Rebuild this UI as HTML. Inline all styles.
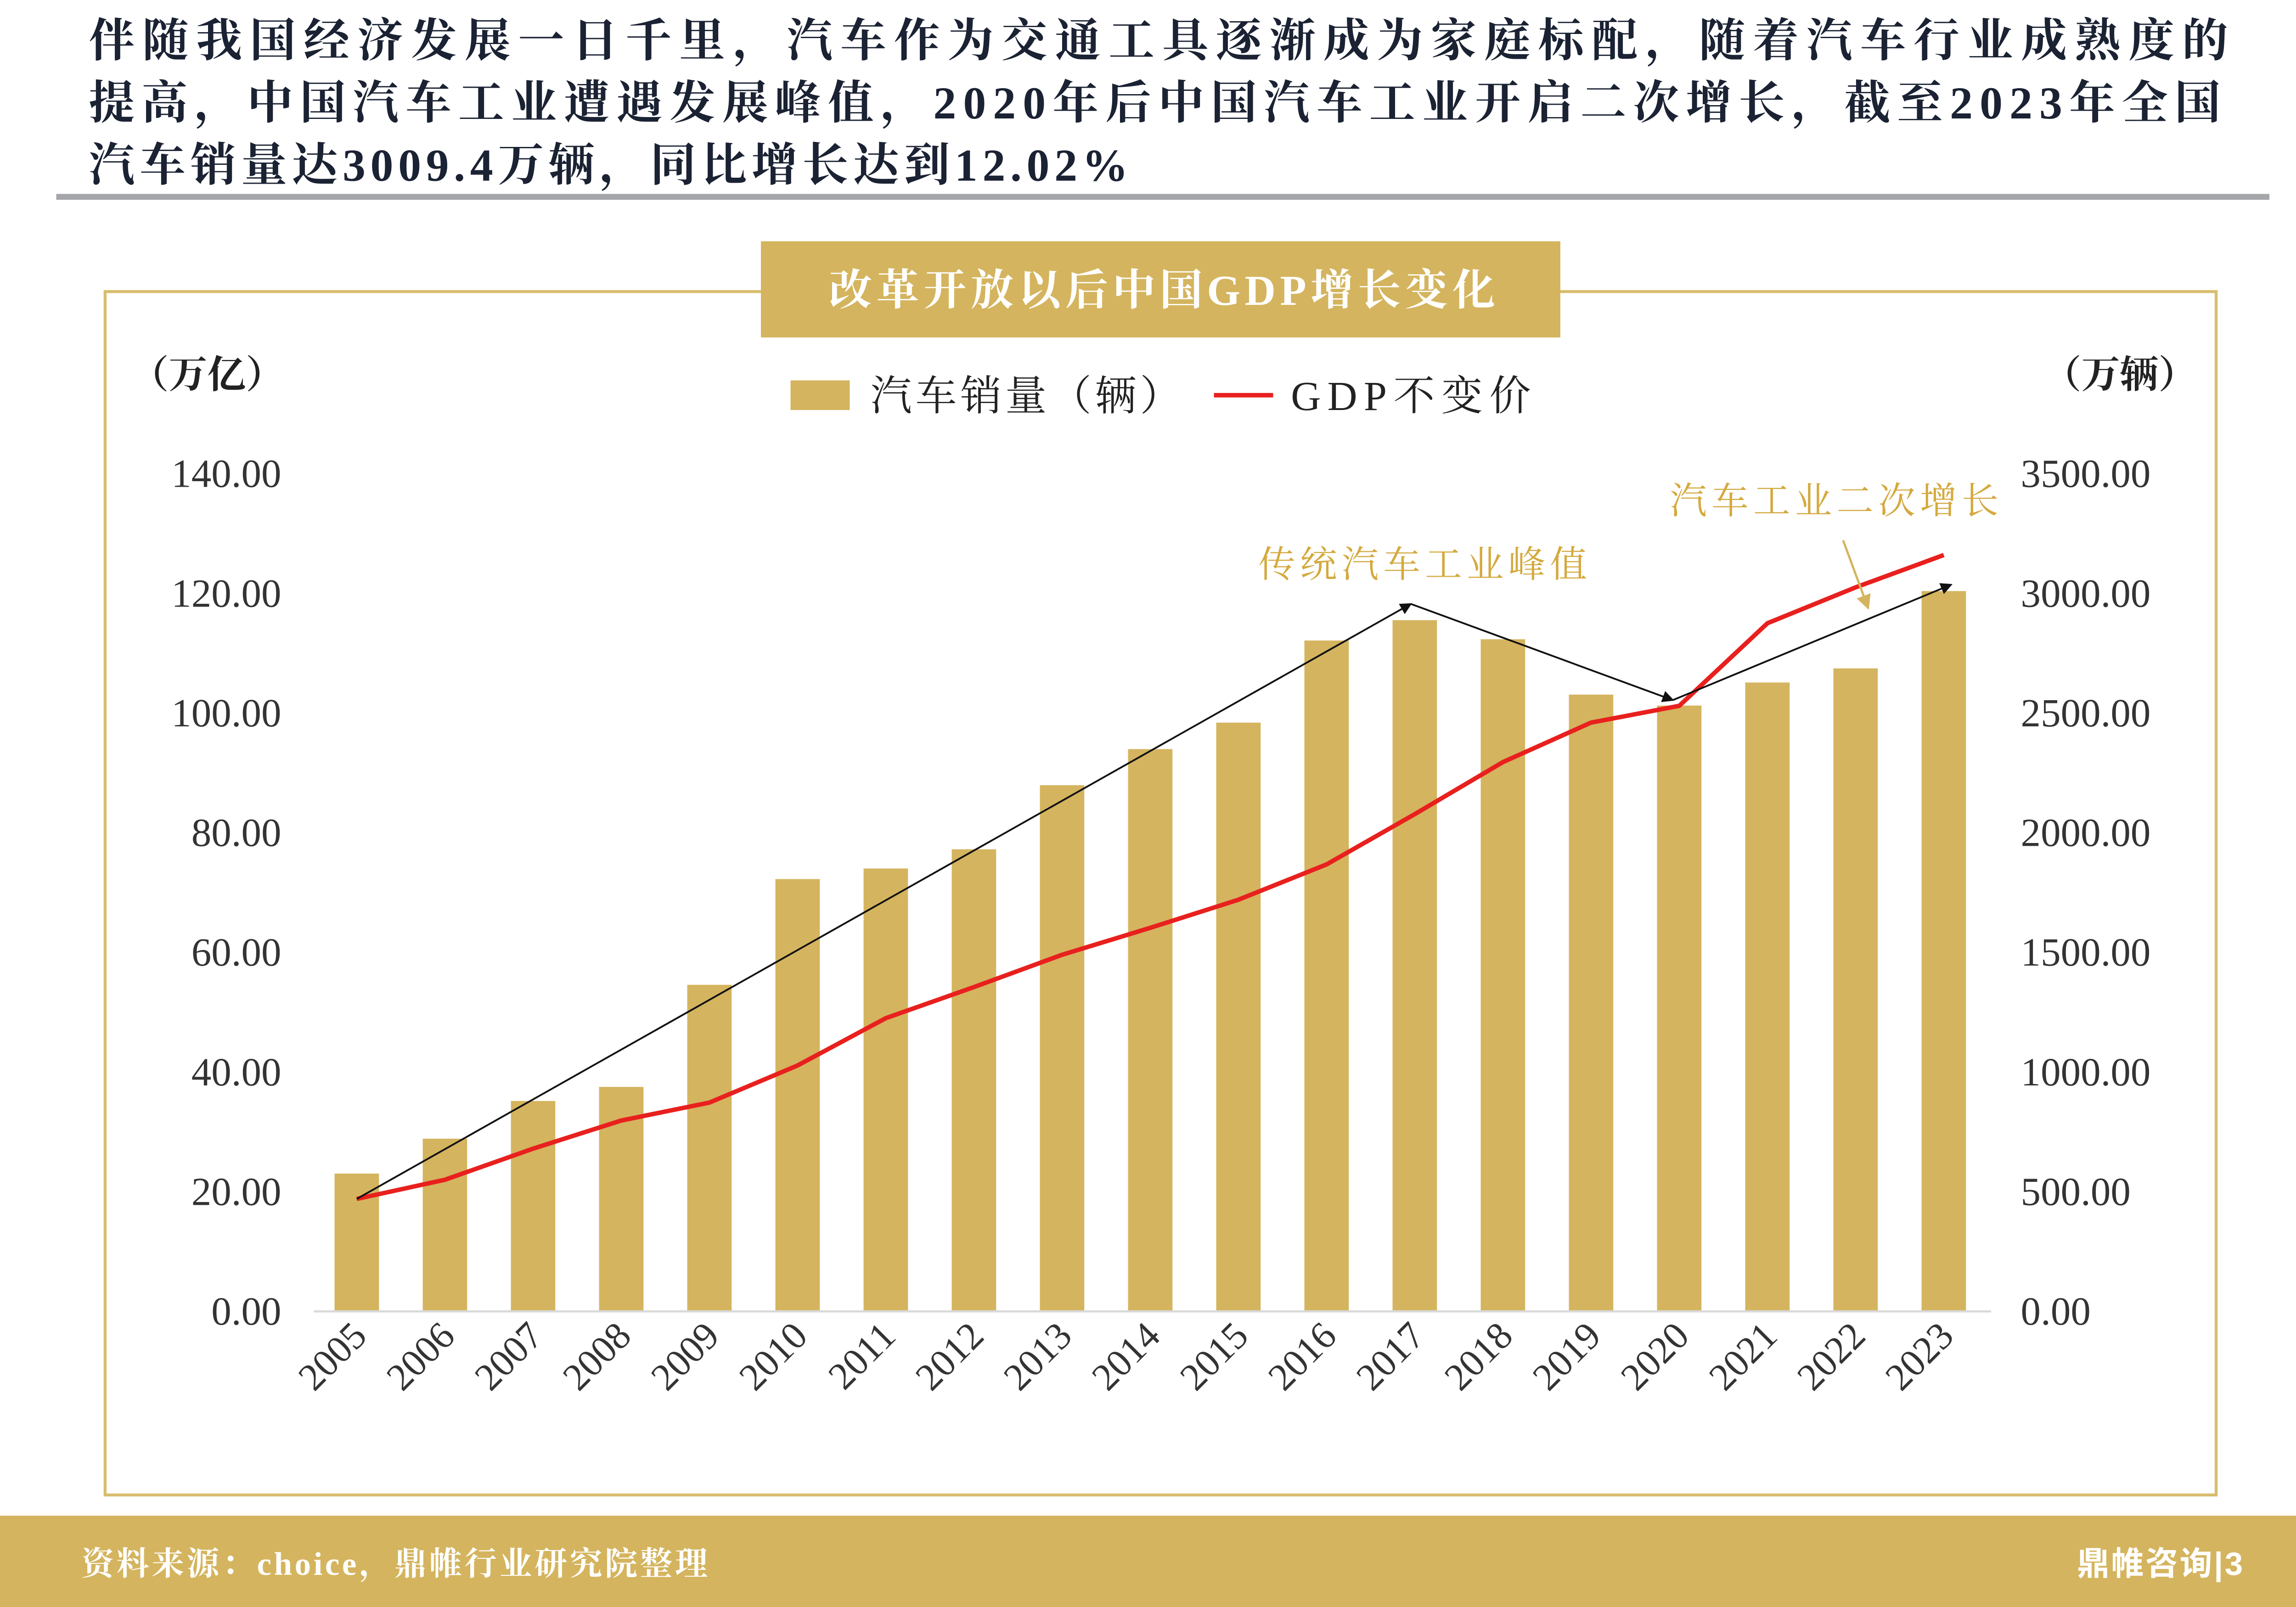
<!DOCTYPE html>
<html><head><meta charset="utf-8"><style>
html,body{margin:0;padding:0;background:#fff;}
svg{display:block;}
</style></head><body>
<svg id="chart" width="5055" height="3500" viewBox="0 0 1568 1085.7" preserveAspectRatio="none" xmlns="http://www.w3.org/2000/svg">
<g font-family="'Liberation Serif','Noto Serif CJK SC',serif" font-weight="bold" font-size="31" fill="#1a2233">
<text x="60" y="38" textLength="1445" lengthAdjust="spacing">伴随我国经济发展一日千里，汽车作为交通工具逐渐成为家庭标配，随着汽车行业成熟度的</text>
<text x="60" y="80" textLength="1440" lengthAdjust="spacing">提高，中国汽车工业遭遇发展峰值，2020年后中国汽车工业开启二次增长，截至2023年全国</text>
<text x="60" y="122" textLength="702" lengthAdjust="spacing">汽车销量达3009.4万辆，同比增长达到12.02%</text>
</g>
<rect x="38" y="131" width="1495" height="4" fill="#a5a6aa"/>
<rect x="71" y="197" width="1426" height="813" fill="none" stroke="#d8bd6e" stroke-width="2"/>
<rect x="514" y="163" width="540" height="65" fill="#d4b45e"/>
<text x="560" y="206" textLength="450" lengthAdjust="spacing" font-family="'Liberation Serif','Noto Serif CJK SC',serif" font-weight="bold" font-size="29" fill="#fff">改革开放以后中国GDP增长变化</text>
<g font-family="'Liberation Serif','Noto Serif CJK SC',serif" font-size="26" fill="#222">
<text x="88" y="262" font-weight="bold">（万亿）</text>
<text x="1380" y="262" font-weight="bold">（万辆）</text>
<rect x="534" y="257" width="40" height="20" fill="#d4b45e"/>
<text x="588" y="277" font-size="28" textLength="210" lengthAdjust="spacing">汽车销量（辆）</text>
<line x1="820" y1="267" x2="860" y2="267" stroke="#e8201e" stroke-width="3"/>
<text x="872" y="277" font-size="28" textLength="162" lengthAdjust="spacing">GDP不变价</text>
</g>
<g id="plot"></g>
<rect x="0" y="1024" width="1568" height="62" fill="#d4b45e"/>
<text x="55" y="1064" textLength="423" lengthAdjust="spacing" font-family="'Liberation Serif','Noto Serif CJK SC',serif" font-weight="bold" font-size="22" fill="#fff">资料来源：choice，鼎帷行业研究院整理</text>
<text x="1403" y="1064" textLength="112" lengthAdjust="spacing" font-family="'Liberation Sans','Noto Sans CJK SC',sans-serif" font-weight="bold" font-size="22" fill="#fff">鼎帷咨询|3</text>
</svg>
<script>
const years=["2005","2006","2007","2008","2009","2010","2011","2012","2013","2014","2015","2016","2017","2018","2019","2020","2021","2022","2023"];
const sales=[575.8,721.6,879.2,938.0,1364.5,1806.2,1850.5,1930.6,2198.4,2349.2,2459.8,2802.8,2887.9,2808.1,2576.9,2531.1,2627.5,2686.4,3009.4];
const gdp=[18.8,22.0,27.2,31.9,34.9,41.1,49.0,54.2,59.6,64.1,68.8,74.7,83.1,91.8,98.4,101.2,115.0,121.0,126.4];
const leftTicks=["0.00","20.00","40.00","60.00","80.00","100.00","120.00","140.00"];
const rightTicks=["0.00","500.00","1000.00","1500.00","2000.00","2500.00","3000.00","3500.00"];
const NS="http://www.w3.org/2000/svg";
const g=document.getElementById('plot');
const Y0=886,Y1=320;
const yL=v=>Y0-(v/140)*(Y0-Y1);
const yR=v=>Y0-(v/3500)*(Y0-Y1);
const x0=241,step=(1313-241)/18;
const xC=i=>x0+i*step;
function mk(t,a){const e=document.createElementNS(NS,t);for(const k in a)e.setAttribute(k,a[k]);g.appendChild(e);return e;}
const defs=mk('defs',{});
defs.innerHTML='<marker id="ah" markerWidth="8" markerHeight="8" refX="7" refY="4" orient="auto" markerUnits="userSpaceOnUse"><path d="M0,0 L8,4 L0,8 z" fill="#111"/></marker><marker id="ag" markerWidth="10" markerHeight="10" refX="9" refY="5" orient="auto" markerUnits="userSpaceOnUse"><path d="M0,0 L10,5 L0,10 z" fill="#d4b45e"/></marker>';
leftTicks.forEach((t,i)=>{const e=mk('text',{x:190,y:yL(i*20)+9,'text-anchor':'end','font-family':'Liberation Serif,serif','font-size':27,fill:'#333'});e.textContent=t;

});
rightTicks.forEach((t,i)=>{const e=mk('text',{x:1365,y:yR(i*500)+9,'font-family':'Liberation Serif,serif','font-size':27,fill:'#333'});e.textContent=t;

});
sales.forEach((v,i)=>{const r=mk('rect',{x:xC(i)-15,y:yR(v),width:30,height:Y0-yR(v),fill:'#d4b45e'});

});
const ax=mk('line',{x1:212,y1:Y0,x2:1345,y2:Y0,stroke:'#d9d9d9','stroke-width':1.5});


years.forEach((y,i)=>{const e=mk('text',{x:0,y:0,'text-anchor':'end','font-family':'Liberation Serif,serif','font-size':26,fill:'#333',transform:`translate(${xC(i)+8},${Y0+18}) rotate(-45)`});e.textContent=y;

});
const pl=mk('polyline',{points:gdp.map((v,i)=>xC(i)+','+yL(v)).join(' '),fill:'none',stroke:'#e8201e','stroke-width':3});


const a1=mk('polyline',{points:`${xC(0)},${yL(gdp[0])} 953,408`,fill:'none',stroke:'#111','stroke-width':1.2,'marker-end':'url(#ah)'});


const a2=mk('polyline',{points:'953,408 1130,473',fill:'none',stroke:'#111','stroke-width':1.2,'marker-end':'url(#ah)'});


const a3=mk('polyline',{points:'1130,473 1318,395',fill:'none',stroke:'#111','stroke-width':1.2,'marker-end':'url(#ah)'});


const a4=mk('line',{x1:1245,y1:365,x2:1262,y2:411,stroke:'#d4b45e','stroke-width':1.5,'marker-end':'url(#ag)'});


const t1=mk('text',{x:850,y:390,textLength:222,lengthAdjust:'spacing','font-family':'Liberation Serif,Noto Serif CJK SC,serif','font-size':25,fill:'#d4a93e'});t1.textContent='传统汽车工业峰值';


const t2=mk('text',{x:1128,y:347,textLength:222,lengthAdjust:'spacing','font-family':'Liberation Serif,Noto Serif CJK SC,serif','font-size':25,fill:'#d4a93e'});t2.textContent='汽车工业二次增长';


</script>
</body></html>
